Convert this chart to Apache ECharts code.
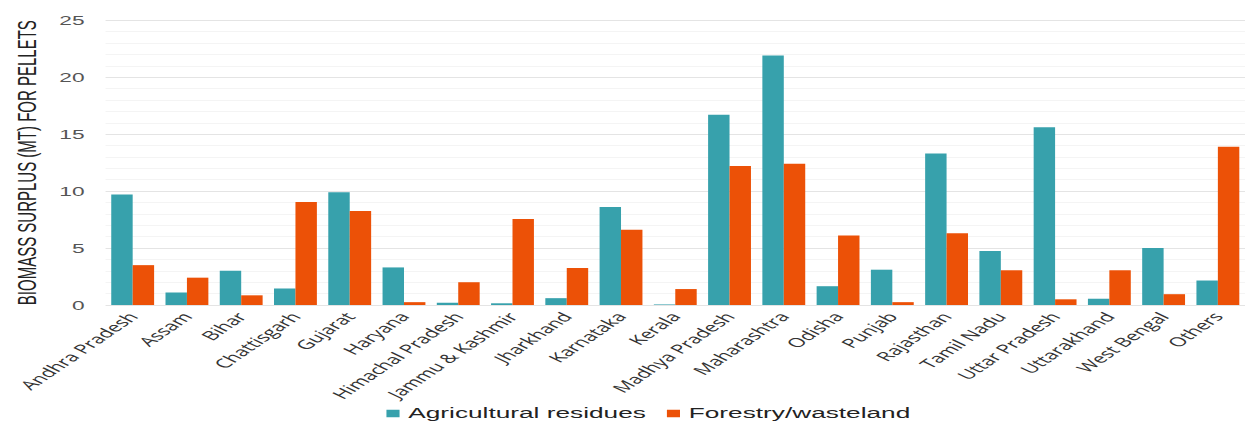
<!DOCTYPE html>
<html>
<head>
<meta charset="utf-8">
<script src="https://cdn.jsdelivr.net/npm/echarts@6/dist/echarts.min.js"></script>
<style>
  html, body { margin: 0; padding: 0; background: #fff; overflow: hidden; }
  #wrap { width: 1245px; height: 423px; overflow: hidden; }
  /* the chart is laid out narrow and widened horizontally */
  #chart { width: 712px; height: 423px; transform: scaleX(1.7486); transform-origin: 0 0; }
</style>
</head>
<body>
<div id="wrap"><div id="chart"></div></div>
<script>
const states = [
  'Andhra Pradesh', 'Assam', 'Bihar', 'Chattisgarh', 'Gujarat', 'Haryana',
  'Himachal Pradesh', 'Jammu & Kashmir', 'Jharkhand', 'Karnataka', 'Kerala',
  'Madhya Pradesh', 'Maharashtra', 'Odisha', 'Punjab', 'Rajasthan',
  'Tamil Nadu', 'Uttar Pradesh', 'Uttarakhand', 'West Bengal', 'Others'
];
const agriculturalResidues = [
  9.7, 1.1, 3.0, 1.45, 9.9, 3.3, 0.2, 0.15, 0.6, 8.6, 0.05,
  16.7, 21.9, 1.65, 3.1, 13.3, 4.75, 15.6, 0.55, 5.0, 2.15
];
const forestryWasteland = [
  3.5, 2.4, 0.85, 9.05, 8.25, 0.25, 2.0, 7.55, 3.25, 6.6, 1.4,
  12.2, 12.4, 6.1, 0.25, 6.3, 3.05, 0.5, 3.05, 0.95, 13.9
];
const seriesNames = ['Agricultural residues', 'Forestry/wasteland'];
const yTicks = [0, 5, 10, 15, 20, 25];

const chart = echarts.init(document.getElementById('chart'), null, { renderer: 'svg' });
chart.setOption({
  animation: false,
  color: ['#37a1ac', '#ec5107'],
  grid: { left: 57.6, right: -6.3, top: 20.3, bottom: 118 },
  legend: {
    data: seriesNames,
    left: 216,
    top: 401,
    icon: 'rect',
    itemWidth: 7.5,
    itemHeight: 7.5,
    itemGap: 12,
    textStyle: { fontFamily: 'Liberation Sans', fontSize: 15, color: '#222' }
  },
  xAxis: {
    type: 'category',
    data: states,
    axisLine: { show: false },
    axisTick: { show: false },
    axisLabel: {
      interval: 0,
      rotate: 50,
      margin: 9,
      fontFamily: 'Open Sans',
      fontSize: 12.8,
      color: '#333'
    }
  },
  yAxis: {
    type: 'value',
    min: yTicks[0],
    max: yTicks[yTicks.length - 1],
    interval: yTicks[1] - yTicks[0],
    name: 'BIOMASS SURPLUS (MT) FOR PELLETS',
    nameLocation: 'middle',
    nameGap: 37,
    nameTextStyle: { fontFamily: 'Liberation Sans', fontSize: 15, color: '#222' },
    axisLine: { show: false },
    axisTick: { show: false },
    axisLabel: { margin: 12, fontFamily: 'Liberation Sans', fontSize: 13, color: '#555' },
    splitLine: { lineStyle: { color: '#e4e4e4', width: 1 } },
    minorTick: { show: false, splitNumber: 5 },
    minorSplitLine: { show: true, lineStyle: { color: '#f4f4f4', width: 1 } }
  },
  series: [
    {
      name: seriesNames[0],
      type: 'bar',
      data: agriculturalResidues,
      barGap: '0%',
      barCategoryGap: '21%'
    },
    {
      name: seriesNames[1],
      type: 'bar',
      data: forestryWasteland,
      barGap: '0%',
      barCategoryGap: '21%'
    }
  ]
});
</script>
</body>
</html>
